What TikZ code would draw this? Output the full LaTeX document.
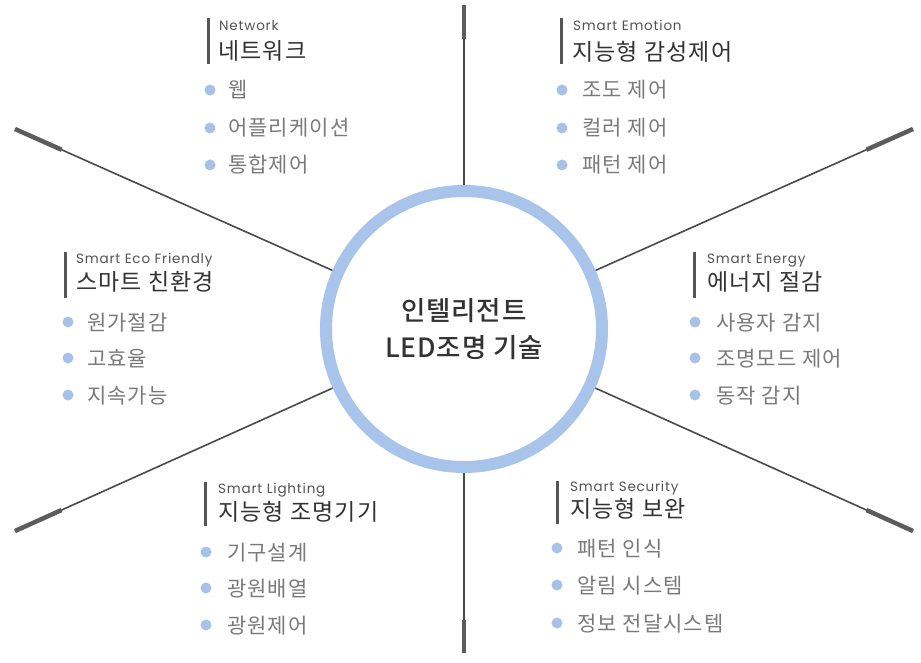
\documentclass[tikz,border=0pt]{standalone}
\usepackage{fontspec}
\setmainfont{Noto Sans CJK KR}
\newfontfamily\krsp[LetterSpace=5]{Noto Sans CJK KR}
\newfontfamily\krhub[LetterSpace=3]{Noto Sans CJK KR Medium}
\newfontfamily\engfont[LetterSpace=6]{Poppins}
\usetikzlibrary{calc}
\definecolor{ringblue}{HTML}{A9C4EA}
\definecolor{bulblue}{HTML}{A8C1E8}
\definecolor{linegray}{HTML}{4A4A4A}
\definecolor{bargray}{HTML}{555555}
\definecolor{ttlgray}{HTML}{333333}
\definecolor{itemgray}{HTML}{7A7A7A}
\tikzset{
  hub/.style={circle, draw=ringblue, line width=12pt, fill=white, minimum size=276pt, inner sep=0pt,
    align=center, text=ttlgray, font=\krhub\fontsize{26.5}{37}\selectfont},
  spoke/.style={draw=linegray, line width=1.6pt},
  spokeend/.style={draw=linegray!90, line width=4.5pt},
  barline/.style={draw=bargray, line width=3pt},
  sub/.style={anchor=base west, inner sep=0pt, text=ttlgray!85, font=\engfont\fontsize{13.5}{15}\selectfont},
  ttl/.style={anchor=base west, inner sep=0pt, text=ttlgray, font=\krsp\fontsize{23}{25}\selectfont},
  item/.style={anchor=base west, inner sep=0pt, text=itemgray, font=\krsp\fontsize{21}{23}\selectfont},
  bul/.style={circle, fill=bulblue, minimum size=11pt, inner sep=0pt}
}
\begin{document}
\begin{tikzpicture}[x=1pt,y=-1pt]
\useasboundingbox[fill=white] (0,0) rectangle (921,663);
% hub
\coordinate (c) at (464,329);
\coordinate (eT) at (464,5);
\coordinate (eB) at (464,653);
\coordinate (eTL) at (15,129);
\coordinate (eTR) at (913,129);
\coordinate (eBL) at (15,531);
\coordinate (eBR) at (913,531);
\foreach \e in {eT,eB,eTL,eTR,eBL,eBR}{
  \draw[spoke] (c) -- (\e);
}
\foreach \e/\l in {eT/34pt,eB/33pt,eTL/51pt,eTR/51pt,eBL/51pt,eBR/51pt}{
  \draw[spokeend] (\e) -- ($(\e)!\l!(c)$);
}
\node[hub] (hub) at (c) {인텔리전트\\LED조명 기술};

% Network
\draw[barline] (208,18) -- (208,64);
\node[sub] (nwE) at (219,31) {Network};
\node[ttl] (nwT) at (218,60) {네트워크};
\node[bul] (nwb1) at (210,90) {};
\node[bul] (nwb2) at (210,128) {};
\node[bul] (nwb3) at (210,165) {};
\node[item] (nwi1) at (228,98) {웹};
\node[item] (nwi2) at (228,136) {어플리케이션};
\node[item] (nwi3) at (228,173) {통합제어};

% Smart Emotion
\draw[barline] (561,18) -- (561,64);
\node[sub] (emE) at (573,31) {Smart Emotion};
\node[ttl] (emT) at (572,60.5) {지능형 감성제어};
\node[bul] (emb1) at (562,90) {};
\node[bul] (emb2) at (562,128) {};
\node[bul] (emb3) at (562,165) {};
\node[item] (emi1) at (582,98) {조도 제어};
\node[item] (emi2) at (582,136) {컬러 제어};
\node[item] (emi3) at (582,173) {패턴 제어};

% Smart Eco Friendly
\draw[barline] (65,252) -- (65,298);
\node[sub] (ecE) at (76,263) {Smart Eco Friendly};
\node[ttl] (ecT) at (76,290.5) {스마트 친환경};
\node[bul] (ecb1) at (68,322) {};
\node[bul] (ecb2) at (68,358) {};
\node[bul] (ecb3) at (68,395) {};
\node[item] (eci1) at (87,330) {원가절감};
\node[item] (eci2) at (87,366) {고효율};
\node[item] (eci3) at (87,403) {지속가능};

% Smart Energy
\draw[barline] (694,252) -- (694,298);
\node[sub] (enE) at (707,263) {Smart Energy};
\node[ttl] (enT) at (707,290.5) {에너지 절감};
\node[bul] (enb1) at (695,322) {};
\node[bul] (enb2) at (695,358) {};
\node[bul] (enb3) at (695,395) {};
\node[item] (eni1) at (716,330) {사용자 감지};
\node[item] (eni2) at (716,366) {조명모드 제어};
\node[item] (eni3) at (716,403) {동작 감지};

% Smart Lighting
\draw[barline] (205,482) -- (205,526);
\node[sub] (liE) at (218,493) {Smart Lighting};
\node[ttl] (liT) at (218,520.5) {지능형 조명기기};
\node[bul] (lib1) at (206,552) {};
\node[bul] (lib2) at (206,588) {};
\node[bul] (lib3) at (206,625) {};
\node[item] (lii1) at (227,560) {기구설계};
\node[item] (lii2) at (227,596) {광원배열};
\node[item] (lii3) at (227,633) {광원제어};

% Smart Security
\draw[barline] (557,481) -- (557,524);
\node[sub] (seE) at (570,491) {Smart Security};
\node[ttl] (seT) at (570,517.5) {지능형 보완};
\node[bul] (seb1) at (557,548) {};
\node[bul] (seb2) at (557,585) {};
\node[bul] (seb3) at (557,623) {};
\node[item] (sei1) at (577,556) {패턴 인식};
\node[item] (sei2) at (577,593) {알림 시스템};
\node[item] (sei3) at (577,631) {정보 전달시스템};
\end{tikzpicture}
\end{document}
